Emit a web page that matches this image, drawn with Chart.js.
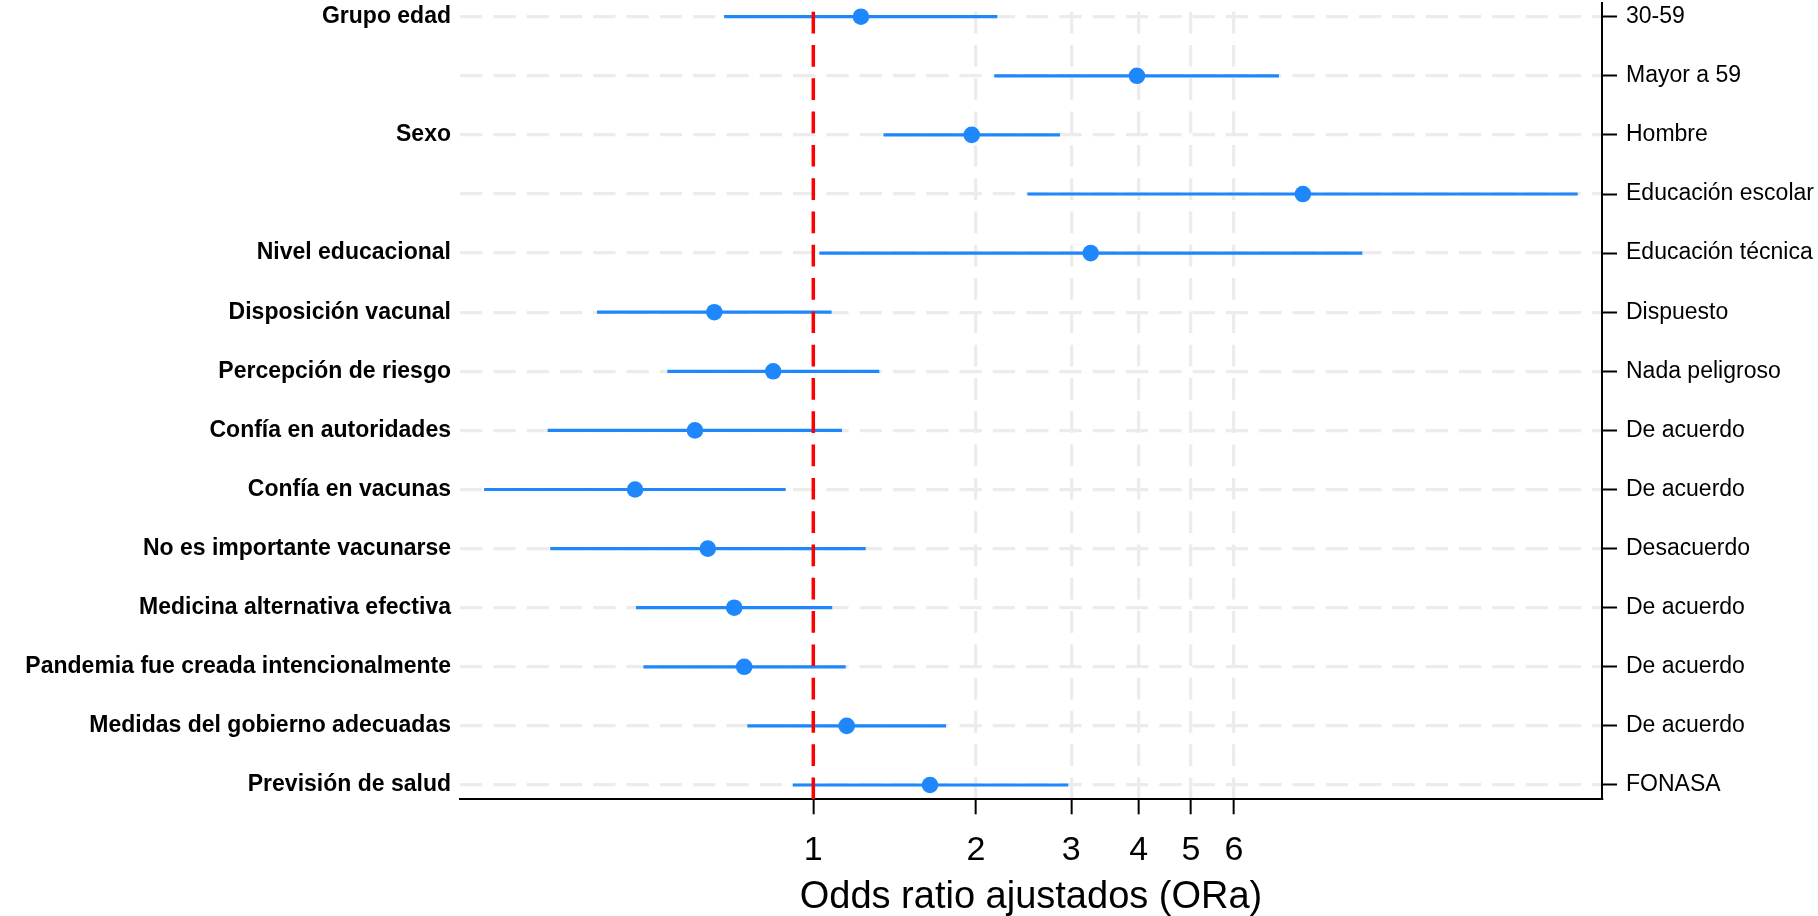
<!DOCTYPE html>
<html>
<head>
<meta charset="utf-8">
<script src="https://cdn.jsdelivr.net/npm/chart.js@4"></script>
<style>
  html, body { margin: 0; padding: 0; background: #ffffff; }
  #wrap { width: 1818px; height: 916px; }
</style>
</head>
<body>
<div id="wrap"><canvas id="c" width="1818" height="916"></canvas></div>
<script>
// ---- data ----
const groupLabels = ['Grupo edad', '', 'Sexo', '', 'Nivel educacional', 'Disposición vacunal',
  'Percepción de riesgo', 'Confía en autoridades', 'Confía en vacunas', 'No es importante vacunarse',
  'Medicina alternativa efectiva', 'Pandemia fue creada intencionalmente',
  'Medidas del gobierno adecuadas', 'Previsión de salud'];
const levelLabels = ['30-59', 'Mayor a 59', 'Hombre', 'Educación escolar', 'Educación técnica',
  'Dispuesto', 'Nada peligroso', 'De acuerdo', 'De acuerdo', 'Desacuerdo', 'De acuerdo',
  'De acuerdo', 'De acuerdo', 'FONASA'];
const orValues = [1.225, 3.97, 1.964, 8.05, 3.26, 0.656, 0.843, 0.604, 0.468, 0.638, 0.714, 0.745, 1.153, 1.644];
const ciLower  = [0.684, 2.162, 1.348, 2.49, 1.026, 0.398, 0.537, 0.3225, 0.246, 0.326, 0.470, 0.485, 0.755, 0.916];
const ciUpper  = [2.19, 7.27, 2.86, 25.96, 10.37, 1.081, 1.325, 1.130, 0.889, 1.250, 1.084, 1.148, 1.760, 2.963];
const xTicks = [1, 2, 3, 4, 5, 6];
const refValue = 1;
const xAxisTitle = 'Odds ratio ajustados (ORa)';

// ---- styling ----
const BLUE = '#1e87fb';
const GRID = '#ececec';
const FONT = "'Liberation Sans', Arial, Helvetica, sans-serif";
const rows = groupLabels.map((_, i) => i + 1);
const yMin = 0.768, yMax = 14.242;
const xMin = 0.222, xMax = 28.79;
const dashPattern = [21.7, 11.6];
const vDashOffset = 24.6;

const datasets = [];
datasets.push({
  type: 'scatter',
  data: rows.map((r, i) => ({ x: orValues[i], y: r })),
  backgroundColor: BLUE,
  borderWidth: 0,
  pointRadius: 8.3,
  pointHoverRadius: 8.3
});
datasets.push({
  type: 'line',
  data: [{ x: refValue, y: yMin }, { x: refValue, y: yMax }],
  borderColor: '#ff0000',
  borderWidth: 3.5,
  borderDash: dashPattern,
  borderDashOffset: vDashOffset,
  pointRadius: 0,
  fill: false
});
rows.forEach((r, i) => {
  datasets.push({
    type: 'line',
    data: [{ x: ciLower[i], y: r }, { x: ciUpper[i], y: r }],
    borderColor: BLUE,
    borderWidth: 3.2,
    borderCapStyle: 'butt',
    pointRadius: 0,
    fill: false
  });
});

function noPadV(s, w) { s.width = w; s.paddingTop = 0; s.paddingBottom = 0; }

new Chart(document.getElementById('c'), {
  data: { datasets },
  options: {
    responsive: false,
    animation: false,
    layout: { autoPadding: false, padding: { top: 3, left: 0, right: 0, bottom: 0 } },
    plugins: { legend: { display: false }, tooltip: { enabled: false } },
    scales: {
      x: {
        type: 'logarithmic',
        position: 'bottom',
        min: xMin,
        max: xMax,
        bounds: 'data',
        afterBuildTicks: s => { s.ticks = xTicks.map(v => ({ value: v })); },
        afterFit: s => { s.height = 116.7; s.paddingLeft = 0; s.paddingRight = 0; },
        ticks: {
          autoSkip: false,
          maxRotation: 0,
          padding: 19,
          color: '#000',
          font: { family: FONT, size: 34, lineHeight: 1 },
          callback: v => String(v)
        },
        grid: {
          color: GRID,
          lineWidth: 3.3,
          drawTicks: true,
          tickLength: 15,
          tickColor: '#000',
          tickWidth: 2,
          tickBorderDash: []
        },
        border: { display: true, color: '#000', width: 2, dash: dashPattern, dashOffset: vDashOffset },
        title: {
          display: true,
          text: xAxisTitle,
          color: '#000',
          font: { family: FONT, size: 38, lineHeight: 1 },
          padding: { top: 0, bottom: -1 }
        }
      },
      y: {
        type: 'linear',
        position: 'left',
        reverse: true,
        min: yMin,
        max: yMax,
        bounds: 'data',
        afterBuildTicks: s => { s.ticks = rows.map(v => ({ value: v })); },
        afterFit: s => noPadV(s, 460),
        ticks: {
          autoSkip: false,
          padding: 9,
          color: '#000',
          font: { family: FONT, size: 23, weight: 'bold' },
          callback: v => groupLabels[Math.round(v) - 1] || ''
        },
        grid: { color: GRID, lineWidth: 3.3, drawTicks: false },
        border: { display: false, dash: [22.3, 11] }
      },
      y2: {
        type: 'linear',
        position: 'right',
        reverse: true,
        min: yMin,
        max: yMax,
        bounds: 'data',
        afterBuildTicks: s => { s.ticks = rows.map(v => ({ value: v })); },
        afterFit: s => noPadV(s, 216),
        ticks: {
          autoSkip: false,
          padding: 9,
          color: '#000',
          font: { family: FONT, size: 23 },
          callback: v => levelLabels[Math.round(v) - 1] || ''
        },
        grid: {
          drawOnChartArea: false,
          drawTicks: true,
          tickLength: 15,
          tickColor: '#000',
          tickWidth: 2,
          color: '#000'
        },
        border: { display: true, color: '#000', width: 2 }
      }
    }
  }
});
</script>
</body>
</html>
